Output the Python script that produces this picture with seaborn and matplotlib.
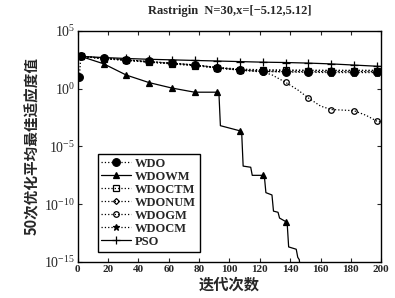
import numpy as np
import pandas as pd
import matplotlib
matplotlib.use("Agg")
import matplotlib.pyplot as plt
import seaborn as sns

# iterations where the markers sit (every 15 iterations)
mark_iters = [2, 17, 32, 47, 62, 77, 92, 107, 122, 137, 152, 167, 182, 197]

# values, stored as log10 of the mean best fitness
wdo_x = [1, 2, 17, 32, 47, 62, 77, 92, 107, 122, 137, 152, 167, 182, 197, 200]
wdo_y = [1.0, 2.8, 2.65, 2.5, 2.36, 2.2, 2.07, 1.83, 1.63, 1.5, 1.48, 1.48, 1.48, 1.48, 1.48, 1.48]

wdowm_x = [2, 17, 32, 47, 62, 77, 92, 93, 94, 107, 108, 109, 114, 115, 122, 123, 124,
           128, 129, 132, 133, 137, 138, 139, 144, 145, 146, 147, 200]
wdowm_y = [2.8, 2.16, 1.18, 0.53, 0.06, -0.3, -0.3, -0.3, -3.2, -3.65, -3.7, -6.7, -6.8, -7.5,
           -7.5, -7.6, -9.0, -9.2, -10.6, -10.7, -11.2, -11.5, -11.6, -13.7, -13.9, -14.6, -14.8,
           -16.0, -16.0]

wdoctm_x = [2, 17, 32, 47, 62, 77, 92, 107, 122, 137, 152, 167, 182, 197, 200]
wdoctm_y = [2.8, 2.6, 2.45, 2.3, 2.15, 2.0, 1.8, 1.65, 1.6, 1.58, 1.57, 1.56, 1.56, 1.55, 1.55]

wdonum_x = [2, 17, 32, 47, 62, 77, 92, 107, 122, 137, 152, 167, 182, 197, 200]
wdonum_y = [2.8, 2.62, 2.48, 2.3, 2.22, 2.05, 1.85, 1.7, 1.64, 1.62, 1.61, 1.6, 1.6, 1.6, 1.6]

wdogm_x = [2, 17, 32, 47, 62, 77, 92, 107, 122, 128, 137, 145, 152, 160, 167, 182, 190, 197, 200]
wdogm_y = [2.8, 2.64, 2.5, 2.35, 2.2, 2.05, 1.8, 1.6, 1.45, 1.2, 0.55, -0.1, -0.8, -1.5, -1.8,
           -1.9, -2.3, -2.8, -2.9]

wdocm_x = [2, 17, 32, 47, 62, 77, 92, 107, 122, 137, 152, 167, 182, 197, 200]
wdocm_y = [2.8, 2.63, 2.47, 2.32, 2.17, 2.02, 1.8, 1.62, 1.5, 1.45, 1.42, 1.4, 1.4, 1.4, 1.4]

pso_x = [2, 17, 32, 47, 62, 77, 92, 107, 122, 137, 152, 167, 182, 197, 200]
pso_y = [2.8, 2.7, 2.62, 2.55, 2.5, 2.45, 2.4, 2.35, 2.3, 2.27, 2.22, 2.15, 2.05, 1.95, 1.93]

series = [
    ("WDO", wdo_x, wdo_y, "o", ":", 5.5, "k"),
    ("WDOWM", wdowm_x, wdowm_y, "^", "-", 4, "k"),
    ("WDOCTM", wdoctm_x, wdoctm_y, "s", ":", 4, "none"),
    ("WDONUM", wdonum_x, wdonum_y, "D", ":", 3, "none"),
    ("WDOGM", wdogm_x, wdogm_y, "o", ":", 4, "none"),
    ("WDOCM", wdocm_x, wdocm_y, "*", ":", 5, "k"),
    ("PSO", pso_x, pso_y, "+", "-", 6, "k"),
]

sns.set_style("ticks")
plt.rcParams["font.family"] = ["Liberation Serif", "Noto Sans CJK SC"]
plt.rcParams["mathtext.fontset"] = "cm"
plt.rcParams["xtick.direction"] = "in"
plt.rcParams["ytick.direction"] = "in"

fig = plt.figure(figsize=(3.95, 2.98), dpi=100)
ax = fig.add_axes([0.197, 0.121, 0.768, 0.775])

for name, xs, ys, mk, ls, ms, fc in series:
    df = pd.DataFrame({"iter": xs, "val": 10.0 ** np.array(ys)})
    marks = [i for i, v in enumerate(xs) if v in mark_iters or (name == "WDO" and v == 1)]
    sns.lineplot(data=df, x="iter", y="val", ax=ax, color="k", linestyle=ls, linewidth=0.9,
                 marker=mk, markersize=ms, markerfacecolor=fc, markeredgecolor="k",
                 markeredgewidth=0.9, markevery=marks, label=name, sort=False)

ax.set_yscale("log")
ax.set_xlim(0, 200)
ax.set_ylim(1e-15, 1e5)
ax.set_xticks(range(0, 201, 20))
ax.set_yticks([1e-15, 1e-10, 1e-5, 1e0, 1e5])
ax.minorticks_off()
ax.tick_params(axis="both", which="both", top=True, right=True,
               length=3, width=0.8, pad=2)
ax.tick_params(axis="y", labelsize=10)
plt.setp(ax.get_xticklabels(), fontweight="bold", fontsize=8)
for sp in ax.spines.values():
    sp.set_linewidth(1.0)
    sp.set_color("k")

ax.set_title("Rastrigin  N=30,x=[\u22125.12,5.12]", fontsize=9, fontweight="bold", pad=12)
ax.set_xlabel("迭代次数", fontsize=11, fontweight="bold", family="Noto Sans CJK SC", labelpad=2)
ax.set_ylabel("50次优化平均最佳适应度值", fontsize=10.5, fontweight="bold",
              family="Noto Sans CJK SC", labelpad=3)

leg = ax.legend(loc="lower left", bbox_to_anchor=(0.065, 0.045),
                prop={"family": "Liberation Serif", "weight": "bold", "size": 9},
                frameon=True, fancybox=False, edgecolor="k", framealpha=1, handlelength=2.4,
                borderpad=0.3, labelspacing=0.08, handletextpad=0.3, borderaxespad=0)
leg.get_frame().set_linewidth(1.0)

fig.savefig("out.png", dpi=100)
